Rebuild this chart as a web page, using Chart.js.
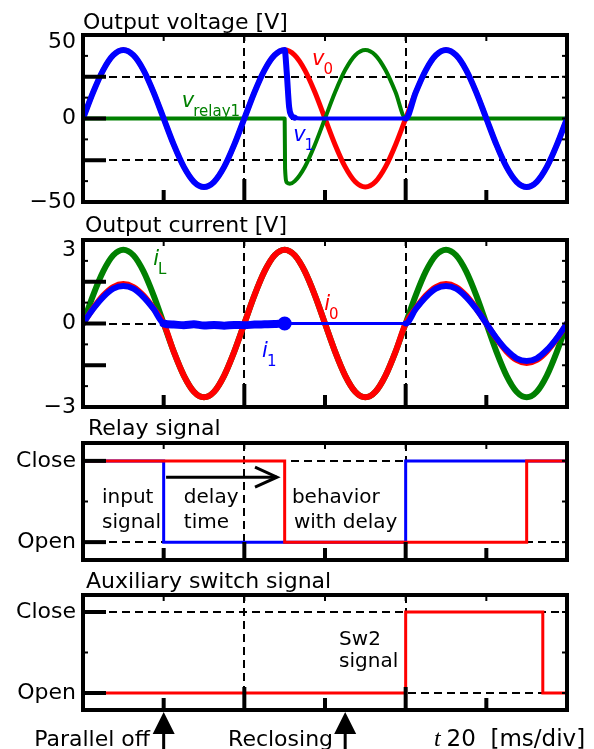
<!DOCTYPE html>
<html>
<head>
<meta charset="utf-8">
<script src="https://cdn.jsdelivr.net/npm/chart.js@4.4.1/dist/chart.umd.min.js"></script>
<style>
  body { margin: 0; background: #fff; }
  #wrap { position: relative; width: 594px; height: 749px; }
  #wrap canvas { position: absolute; left: 0; }
</style>
</head>
<body>
<div id="wrap">
  <canvas id="voltage" width="594" height="224" style="top:0px"></canvas>
  <canvas id="current" width="594" height="224" style="top:205px"></canvas>
  <canvas id="relay" width="594" height="174" style="top:408px"></canvas>
  <canvas id="aux" width="594" height="189" style="top:560px"></canvas>
</div>
<script>
// time axis, ms (20 ms per division)
const divTicks = [0, 20, 40, 60, 80, 100, 120];
const tSine = [0, 2.5, 5, 7.5, 10, 12.5, 15, 17.5, 20, 22.5, 25, 27.5, 30, 32.5, 35, 37.5,
  40, 42.5, 45, 47.5, 50, 52.5, 55, 57.5, 60, 62.5, 65, 67.5, 70, 72.5, 75, 77.5,
  80, 82.5, 85, 87.5, 90, 92.5, 95, 97.5, 100, 102.5, 105, 107.5, 110, 112.5, 115, 117.5, 120];

// Output voltage [V]
const v0 = [0, 15.7, 29, 37.9, 41, 37.9, 29, 15.7, 0, -15.7, -29, -37.9, -41, -37.9, -29, -15.7,
  0, 15.7, 29, 37.9, 41, 37.9, 29, 15.7, 0, -15.7, -29, -37.9, -41, -37.9, -29, -15.7,
  0, 15.7, 29, 37.9, 41, 37.9, 29, 15.7, 0, -15.7, -29, -37.9, -41, -37.9, -29, -15.7, 0];
const v1Time = [0, 2.5, 5, 7.5, 10, 12.5, 15, 17.5, 20, 22.5, 25, 27.5, 30, 32.5, 35, 37.5,
  40, 42.5, 45, 47.5, 50, 50.5, 51.1, 51.6, 52.5, 54, 80,
  82.5, 85, 87.5, 90, 92.5, 95, 97.5, 100, 102.5, 105, 107.5, 110, 112.5, 115, 117.5, 120];
const v1 = [0, 15.7, 29, 37.9, 41, 37.9, 29, 15.7, 0, -15.7, -29, -37.9, -41, -37.9, -29, -15.7,
  0, 15.7, 29, 37.9, 41, 28, 7, 2, 0.5, 0, 0,
  15.7, 29, 37.9, 41, 37.9, 29, 15.7, 0, -15.7, -29, -37.9, -41, -37.9, -29, -15.7, 0];
const vRelayTime = [0, 50, 50.1, 50.6, 51.3, 52.5, 55, 57.5, 60, 62.5, 65, 67.5, 70, 72.5, 75, 77.5, 80, 120];
const vRelay = [0, 0, -30, -38.5, -39, -37.5, -29, -15.7, 0, 15.7, 29, 37.9, 41, 37.9, 29, 15.7, 0, 0];
const voltTicks = [-50, -25, 0, 25, 50];
const voltLabels = { '50': ['', '50'], '0': '0', '-50': '−50' };

// Output current
const iL = [0, 1.01, 1.87, 2.45, 2.65, 2.45, 1.87, 1.01, 0, -1.01, -1.87, -2.45, -2.65, -2.45, -1.87, -1.01,
  0, 1.01, 1.87, 2.45, 2.65, 2.45, 1.87, 1.01, 0, -1.01, -1.87, -2.45, -2.65, -2.45, -1.87, -1.01,
  0, 1.01, 1.87, 2.45, 2.65, 2.45, 1.87, 1.01, 0, -1.01, -1.87, -2.45, -2.65, -2.45, -1.87, -1.01, 0];
const i0 = [0, 0.54, 1.0, 1.31, 1.42, 1.31, 1.0, 0.54, 0,
  -1.01, -1.87, -2.45, -2.65, -2.45, -1.87, -1.01, 0, 1.01, 1.87, 2.45, 2.65, 2.45, 1.87, 1.01,
  0, -1.01, -1.87, -2.45, -2.65, -2.45, -1.87, -1.01, 0,
  0.54, 1.0, 1.31, 1.42, 1.31, 1.0, 0.54, 0, -0.54, -1.0, -1.31, -1.42, -1.31, -1.0, -0.54, 0];
const i1Time = [0, 2.5, 5, 7.5, 10, 12.5, 15, 17.5, 20, 22.5, 25, 27.5, 30, 32.5, 35, 37.5,
  40, 42.5, 45, 47.5, 50, 80,
  82.5, 85, 87.5, 90, 92.5, 95, 97.5, 100, 102.5, 105, 107.5, 110, 112.5, 115, 117.5, 120];
const i1 = [0, 0.52, 0.95, 1.25, 1.35, 1.25, 0.95, 0.52, 0,
  -0.04, -0.06, -0.03, -0.07, -0.05, -0.08, -0.05, -0.06, -0.04, -0.03, -0.02, 0, 0,
  0.52, 0.95, 1.25, 1.35, 1.25, 0.95, 0.52, 0, -0.52, -0.95, -1.25, -1.35, -1.25, -0.95, -0.52, 0];
const currTicks = [-3, -1.5, 0, 1.5, 3];
const currLabels = { '3': ['', '3'], '0': '0', '-3': '−3' };

// Relay signal (1 = Close, 0 = Open)
const relayInputTime = [0, 20, 80, 120];
const relayInput = [1, 0, 1, 1];
const relayDelayTime = [0, 50, 110, 120];
const relayDelayed = [1, 0, 1, 1];
// Auxiliary switch signal
const sw2Time = [0, 80, 114, 120];
const sw2 = [0, 1, 0, 0];
const stateTicks = [0, 1];
const stateLabels = { '0': 'Open', '1': 'Close' };

const FONT = '"DejaVu Sans", sans-serif';
const BLUE = '#0000ff', RED = '#ff0000', GREEN = '#008000';

function pts(times, values) {
  return times.map((t, i) => ({ x: t, y: values[i] }));
}

// frame, inward ticks, labels and arrows
const panelDecor = {
  id: 'panelDecor',
  afterDatasetsDraw(chart, args, o) {
    const { ctx, chartArea: a, scales: { x, y } } = chart;
    const line = (x1, y1, x2, y2) => { ctx.beginPath(); ctx.moveTo(x1, y1); ctx.lineTo(x2, y2); ctx.stroke(); };
    ctx.save();
    ctx.strokeStyle = '#000';
    ctx.fillStyle = '#000';
    ctx.lineWidth = 4;
    o.yMajor.forEach(v => { const p = y.getPixelForValue(v); line(a.left, p, a.left + 23, p); });
    ctx.lineWidth = 2;
    o.yMinor.forEach(v => {
      const p = y.getPixelForValue(v);
      line(a.left, p, a.left + 5, p);
      line(a.right, p, a.right - 5, p);
    });
    o.yMajor.forEach(v => { const p = y.getPixelForValue(v); line(a.right, p, a.right - 5, p); });
    [20, 40, 60, 80, 100].forEach(t => { const p = x.getPixelForValue(t); line(p, a.top, p, a.top + 6); });
    ctx.lineWidth = 4;
    [40, 80].forEach(t => { const p = x.getPixelForValue(t); line(p, a.bottom, p, a.bottom - o.longTick); });
    [20, 60, 100].forEach(t => { const p = x.getPixelForValue(t); line(p, a.bottom, p, a.bottom - o.shortTick); });
    ctx.strokeRect(a.left, a.top, a.width, a.height);

    // title
    ctx.font = '22px ' + FONT;
    ctx.textAlign = 'left';
    ctx.textBaseline = 'alphabetic';
    ctx.fillText(o.title, a.left + o.titleDx, a.top - o.titleDy);

    // in-plot labels
    (o.labels || []).forEach(it => {
      const px = x.getPixelForValue(it.t), py = y.getPixelForValue(it.v);
      ctx.fillStyle = it.color || '#000';
      ctx.textAlign = 'left';
      ctx.font = (it.italic ? 'italic ' : '') + (it.size || 20) + 'px ' + FONT;
      ctx.fillText(it.text, px, py);
      if (it.sub) {
        const w = ctx.measureText(it.text).width;
        ctx.font = '15px ' + FONT;
        ctx.fillText(it.sub, px + w - 1, py + 9);
      }
    });

    // horizontal arrow with open head
    if (o.arrow) {
      const x1 = x.getPixelForValue(o.arrow.from), x2 = x.getPixelForValue(o.arrow.to);
      const py = y.getPixelForValue(o.arrow.v);
      ctx.strokeStyle = '#000';
      ctx.lineWidth = 3;
      line(x1, py, x2, py);
      ctx.beginPath();
      ctx.moveTo(x2 - 22, py - 10); ctx.lineTo(x2, py); ctx.lineTo(x2 - 22, py + 10);
      ctx.stroke();
    }

    // up arrows and captions under the plot
    (o.upArrows || []).forEach(t => {
      const px = x.getPixelForValue(t), tip = a.bottom + 2;
      ctx.fillStyle = '#000';
      ctx.beginPath();
      ctx.moveTo(px, tip); ctx.lineTo(px - 11, tip + 22); ctx.lineTo(px + 11, tip + 22); ctx.closePath();
      ctx.fill();
      ctx.fillRect(px - 1.5, tip + 20, 3, chart.height - tip - 20);
    });
    (o.captions || []).forEach(c => {
      const px = x.getPixelForValue(c.t), py = a.bottom + c.dy;
      ctx.fillStyle = '#000';
      ctx.textAlign = c.align || 'left';
      if (c.lead) {
        ctx.font = 'italic 24px "Liberation Serif", serif';
        ctx.fillText(c.lead, px, py);
        const w = ctx.measureText(c.lead).width;
        ctx.font = '23px ' + FONT;
        ctx.fillText(c.text, px + w + 6, py);
      } else {
        ctx.font = '22px ' + FONT;
        ctx.fillText(c.text, px, py);
      }
    });
    ctx.restore();
  }
};

function makePanel(id, cfg) {
  return new Chart(document.getElementById(id), {
    type: 'line',
    data: { datasets: cfg.datasets },
    options: {
      responsive: false,
      animation: false,
      layout: { padding: cfg.padding },
      elements: {
        point: { radius: 0 },
        line: { cubicInterpolationMode: 'monotone', borderCapStyle: 'round', borderJoinStyle: 'round' }
      },
      plugins: {
        legend: { display: false },
        tooltip: { enabled: false },
        panelDecor: cfg.decor
      },
      scales: {
        x: {
          type: 'linear', min: 0, max: 120,
          afterBuildTicks: s => { s.ticks = divTicks.map(v => ({ value: v })); },
          ticks: { display: false },
          grid: {
            drawTicks: false, lineWidth: 2,
            color: c => (c.tick && (c.tick.value === 40 || c.tick.value === 80)) ? '#000' : 'rgba(0,0,0,0)'
          },
          border: { display: false, dash: [8, 5] }
        },
        y: {
          min: cfg.yMin, max: cfg.yMax,
          afterBuildTicks: s => { s.ticks = cfg.yTicks.map(v => ({ value: v })); },
          afterFit: s => { s.width = 83; },
          ticks: {
            font: { family: FONT, size: 22, lineHeight: cfg.labelLineHeight || 1.2 }, color: '#000', padding: 7,
            callback: v => cfg.yLabels[String(v)] || ''
          },
          grid: {
            drawTicks: false, lineWidth: 2,
            color: c => (c.tick && cfg.yDashed.includes(c.tick.value)) ? '#000' : 'rgba(0,0,0,0)'
          },
          border: { display: false, dash: [8, 5] }
        }
      }
    },
    plugins: [panelDecor]
  });
}

makePanel('voltage', {
  padding: { top: 35, right: 27, bottom: 22, left: 0 },
  yMin: -50, yMax: 50, yTicks: voltTicks, yLabels: voltLabels, yDashed: [-25, 0, 25],
  labelLineHeight: 0.64,
  datasets: [
    {
      label: 'v1', data: pts(v1Time, v1), borderColor: BLUE, borderWidth: 6,
      segment: { borderWidth: c => (c.p0.parsed.x >= 52.5 && c.p1.parsed.x <= 80) ? 4 : 6 }
    },
    { label: 'vrelay1', data: pts(vRelayTime, vRelay), borderColor: GREEN, borderWidth: 4 },
    { label: 'v0', data: pts(tSine, v0), borderColor: RED, borderWidth: 5 }
  ],
  decor: {
    title: 'Output voltage [V]', titleDx: 0, titleDy: 6,
    yMajor: [-25, 0, 25], yMinor: [-37.5, -12.5, 12.5, 37.5],
    longTick: 23, shortTick: 12,
    labels: [
      { t: 56.8, v: 32, text: 'v', sub: '0', color: RED, italic: true, size: 21 },
      { t: 24.5, v: 7, text: 'v', sub: 'relay1', color: GREEN, italic: true, size: 21 },
      { t: 52.1, v: -13.7, text: 'v', sub: '1', color: BLUE, italic: true, size: 21 }
    ]
  }
});

makePanel('current', {
  padding: { top: 35, right: 27, bottom: 22, left: 0 },
  yMin: -3, yMax: 3, yTicks: currTicks, yLabels: currLabels, yDashed: [-1.5, 0, 1.5],
  labelLineHeight: 0.9,
  datasets: [
    {
      label: 'i1', data: pts(i1Time, i1), borderColor: BLUE, backgroundColor: BLUE, borderWidth: 6,
      pointRadius: c => (c.raw && c.raw.x === 50) ? 4 : 0,
      segment: {
        borderWidth: c => (c.p0.parsed.x >= 50 && c.p1.parsed.x <= 80) ? 3
          : (c.p0.parsed.x >= 20 && c.p1.parsed.x <= 50 ? 8 : 6)
      }
    },
    { label: 'i0', data: pts(tSine, i0), borderColor: RED, borderWidth: 6 },
    { label: 'iL', data: pts(tSine, iL), borderColor: GREEN, borderWidth: 6 }
  ],
  decor: {
    title: 'Output current [V]', titleDx: 2, titleDy: 8,
    yMajor: [-1.5, 0, 1.5], yMinor: [-2.25, -0.75, 0.75, 2.25],
    longTick: 23, shortTick: 12,
    labels: [
      { t: 17.4, v: 2.1, text: 'i', sub: 'L', color: GREEN, italic: true, size: 21 },
      { t: 59.8, v: 0.5, text: 'i', sub: '0', color: RED, italic: true, size: 21 },
      { t: 44.4, v: -1.21, text: 'i', sub: '1', color: BLUE, italic: true, size: 21 }
    ]
  }
});

makePanel('relay', {
  padding: { top: 35, right: 27, bottom: 22, left: 0 },
  yMin: -0.22, yMax: 1.22, yTicks: stateTicks, yLabels: stateLabels, yDashed: [0, 1],
  datasets: [
    { label: 'behavior with delay', data: pts(relayDelayTime, relayDelayed), borderColor: RED, borderWidth: 3, stepped: true, borderCapStyle: 'butt', borderJoinStyle: 'miter' },
    { label: 'input signal', data: pts(relayInputTime, relayInput), borderColor: BLUE, borderWidth: 3, stepped: true, borderCapStyle: 'butt', borderJoinStyle: 'miter' }
  ],
  decor: {
    title: 'Relay signal', titleDx: 5, titleDy: 8,
    yMajor: [0, 1], yMinor: [0.5],
    longTick: 18, shortTick: 12,
    labels: [
      { t: 4.7, v: 0.48, text: 'input' },
      { t: 4.7, v: 0.17, text: 'signal' },
      { t: 25, v: 0.48, text: 'delay' },
      { t: 25, v: 0.17, text: 'time' },
      { t: 51.8, v: 0.48, text: 'behavior' },
      { t: 52.3, v: 0.17, text: 'with delay' }
    ],
    arrow: { from: 20.6, to: 48.1, v: 0.8 }
  }
});

makePanel('aux', {
  padding: { top: 35, right: 27, bottom: 39, left: 0 },
  yMin: -0.21, yMax: 1.21, yTicks: stateTicks, yLabels: stateLabels, yDashed: [0, 1],
  datasets: [
    { label: 'Sw2 signal', data: pts(sw2Time, sw2), borderColor: RED, borderWidth: 3, stepped: true, borderCapStyle: 'butt', borderJoinStyle: 'miter' }
  ],
  decor: {
    title: 'Auxiliary switch signal', titleDx: 3, titleDy: 7,
    yMajor: [0, 1], yMinor: [0.5],
    longTick: 23, shortTick: 12,
    labels: [
      { t: 63.5, v: 0.59, text: 'Sw2' },
      { t: 63.5, v: 0.32, text: 'signal' }
    ],
    upArrows: [20, 65],
    captions: [
      { t: 16.6, dy: 36, text: 'Parallel off', align: 'right' },
      { t: 62, dy: 36, text: 'Reclosing', align: 'right' },
      { t: 87, dy: 36, lead: 't', text: '20  [ms/div]' }
    ]
  }
});
</script>
</body>
</html>
